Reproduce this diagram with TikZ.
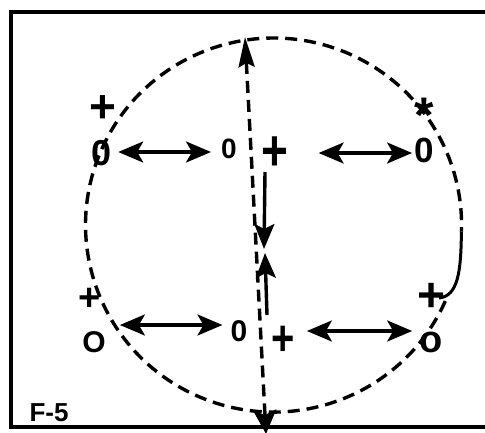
\documentclass[tikz,border=0pt]{standalone}
\usepackage{fontspec}
\usepackage{graphicx}
\setmainfont{Liberation Sans}
\usetikzlibrary{arrows.meta}
\newcommand{\tallplus}{\scalebox{1}[1.25]{+}}
\newcommand{\lowstar}{\raisebox{-0.40em}[0.34em][0pt]{*}}
\tikzset{
  glyph/.style={inner sep=0pt, font=\bfseries\fontsize{#1}{#1}\selectfont},
  dline/.style={line width=3.4pt, dash pattern=on 12pt off 7pt},
  dbl/.style={line width=3.2pt, {Stealth[length=25pt,width=21pt,inset=6pt]}-{Stealth[length=25pt,width=21pt,inset=6pt]}},
  sarrow/.style={line width=3.4pt, -{Stealth[length=25pt,width=20pt,inset=5pt]}},
  framel/.style={line width=4pt},
}
\begin{document}
\begin{tikzpicture}[x=1pt,y=-1pt]
\useasboundingbox (0,0) rectangle (485,432);
% frame
\draw[framel] (487,12) -- (11,12) -- (11,427) -- (487,427);
% dashed circle (open where the solid stroke replaces it)
\draw[dline] (445.3,301.1) arc[start angle=24, end angle=362, x radius=188, y radius=187];
% solid part bottom-right
\coordinate (cs) at (461.4,231.5);
\coordinate (ce) at (439,298);
\draw[line width=3pt] (cs) .. controls (461,272) and (458,296) .. (ce);
% vertical dashed axis
\coordinate (vt) at (245,37);
\coordinate (vb) at (266,434);
\draw[dline, {Stealth[length=30pt,width=16pt,inset=4pt]}-{Stealth[length=24pt,width=23pt,inset=5pt]}] (vt) -- (vb);
% symbols
\node[glyph=46] (p1) at (103,109) {+};
\node[glyph=36] (o1) at (102,153) {0};
\node[glyph=28] (o2) at (229,149) {0};
\node[glyph=46] (p2) at (275,154) {\tallplus};
\node[glyph=35] (o3) at (424,150) {0};
\node[glyph=50] (s1) at (424,104) {\lowstar};
\node[glyph=38] (p3) at (90,299) {+};
\node[glyph=30] (o4) at (94,342) {O};
\node[glyph=30] (o5) at (239,331) {0};
\node[glyph=40] (p4) at (283,341) {\tallplus};
\node[glyph=48] (p5) at (432,297) {+};
\node[glyph=38] (o6) at (431,342) {o};
% double arrows
\coordinate (r1) at (0,152);
\coordinate (r2) at (0,153);
\coordinate (r3) at (0,325);
\coordinate (r4) at (0,331);
\draw[dbl] ([xshift=6pt]o1.east |- r1) -- ([xshift=-10pt]o2.west |- r1);
\draw[dbl] ([xshift=30pt]p2.east |- r2) -- ([xshift=-2pt]o3.west |- r2);
\draw[dbl] ([xshift=14pt]o4.east |- r3) -- ([xshift=-8pt]o5.west |- r3);
\draw[dbl] ([xshift=12pt]p4.east |- r4) -- ([xshift=-7pt]o6.west |- r4);
% vertical solid arrows
\coordinate (a1s) at (265,172);
\coordinate (a1e) at (264,249);
\coordinate (a2s) at (267,315);
\coordinate (a2e) at (265,253);
\draw[sarrow] (a1s) -- (a1e);
\draw[sarrow] (a2s) -- (a2e);
% label
\node[inner sep=0pt, font=\bfseries\fontsize{26}{26}\selectfont] (lbl) at (49,413) {F-5};
\end{tikzpicture}
\end{document}
